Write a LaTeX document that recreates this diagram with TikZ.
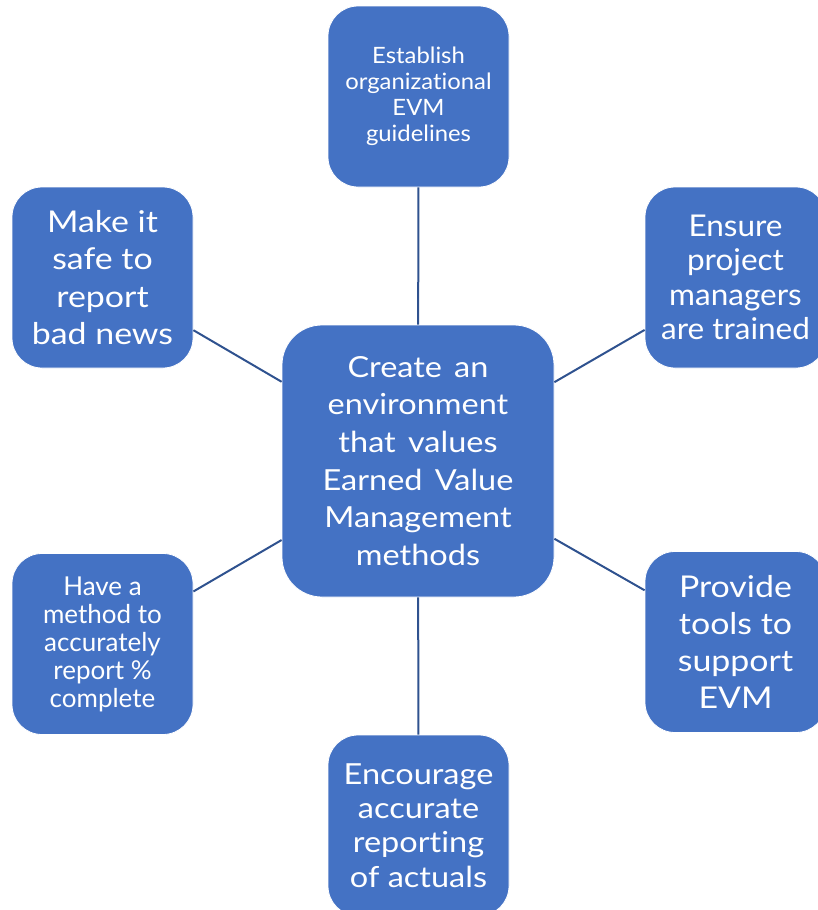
\documentclass[tikz,border=0pt]{standalone}
\usepackage{fontspec}
\setmainfont{Lato}[Ligatures=NoCommon]
\definecolor{boxblue}{HTML}{4472C4}
\definecolor{linkblue}{HTML}{2F528F}
% font size, line distance and horizontal stretch of a box label
\newcommand\labelfont[3]{\fontsize{#1}{#2}\selectfont\addfontfeatures{FakeStretch=#3}}
\begin{document}
\begin{tikzpicture}[x=1pt,y=-1pt,
  idea/.style={rectangle, rounded corners=30pt, fill=boxblue, draw=white, line width=0.8pt,
    minimum width=181pt, minimum height=181pt, inner sep=0pt, align=center, text=white},
  hub/.style={idea, rounded corners=40pt, minimum width=272pt, minimum height=272pt},
  link/.style={draw=linkblue, line width=2pt}]
\useasboundingbox (0,0) rectangle (817,910);

\node[hub, font={\labelfont{29}{37.7}{1.12}\spaceskip=0.42em\relax}] (c) at (418,461)
  {Create an\\environment\\that values\\Earned Value\\Management\\methods};

\node[idea, font=\labelfont{22.5}{26}{1.06}] (top) at (418.5,96.5)
  {Establish\\organizational\\EVM\\guidelines};
\node[idea, font=\labelfont{30}{37.5}{1.13}] (lt) at (102.5,277.5)
  {Make it\\safe to\\report\\bad news};
\node[idea, font=\labelfont{30}{34.5}{1.05}] (rt) at (735.5,277.5)
  {Ensure\\project\\managers\\are trained};
\node[idea, font=\labelfont{26}{28}{1.0}] (lb) at (102.5,644)
  {Have a\\method to\\accurately\\report \%\\complete};
\node[idea, font=\labelfont{30}{37}{1.13}] (rb) at (735.5,642)
  {Provide\\tools to\\support\\EVM};
\node[idea, font=\labelfont{29}{34.2}{1.12}] (bot) at (418.5,825.5)
  {Encourage\\accurate\\reporting\\of actuals};

\foreach \n in {top,lt,rt,lb,rb,bot}
  \draw[link] (c) -- (\n);
\end{tikzpicture}
\end{document}
